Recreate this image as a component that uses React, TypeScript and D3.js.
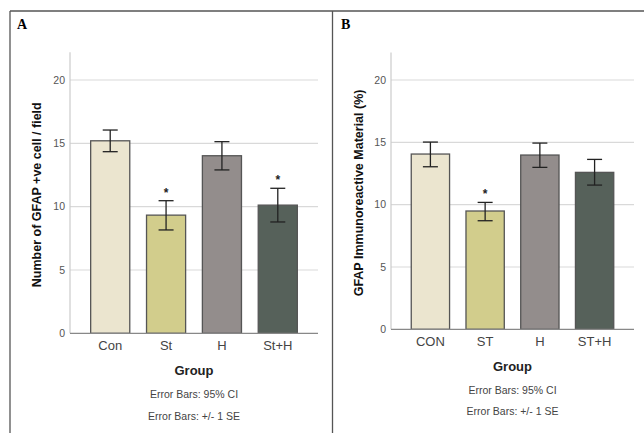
import * as d3 from "d3";

// panel A
const groupsA = ["Con", "St", "H", "St+H"];
const meanA = [15.2, 9.33, 14.02, 10.12];
const hiA = [16.05, 10.47, 15.13, 11.45];
const loA = [14.34, 8.16, 12.9, 8.79];
const starA = [false, true, false, true];

// panel B
const groupsB = ["CON", "ST", "H", "ST+H"];
const meanB = [14.06, 9.49, 13.98, 12.59];
const hiB = [15.02, 10.18, 14.94, 13.63];
const loB = [13.04, 8.71, 12.99, 11.57];
const starB = [false, true, false, false];

const yTicks = [0, 5, 10, 15, 20];
const barColors = ["#ebe5cf", "#d2cd8c", "#938d8c", "#56615a"];
const notes = ["Error Bars: 95% CI", "Error Bars: +/- 1 SE"];

const sans = "Arial, 'Liberation Sans', sans-serif";

type PanelProps = {
  label: string;
  labelX: number;
  groups: string[];
  mean: number[];
  hi: number[];
  lo: number[];
  star: boolean[];
  left: number;
  right: number;
  y0: number;
  y20: number;
  titleX: number;
  title: string;
  xLabelY: number;
  groupY: number;
  noteY: number[];
};

const Panel = (p: PanelProps) => {
  const x = d3
    .scaleBand()
    .domain(p.groups)
    .range([p.left, p.right])
    .paddingInner(0.3)
    .paddingOuter(0.37);
  const y = d3.scaleLinear().domain([0, 20]).range([p.y0, p.y20]);
  const axisTop = y(22.2);
  const mid = (p.left + p.right) / 2;
  const titleY = (y(0) + axisTop) / 2 + 2;

  return (
    <g>
      <text x={p.labelX} y={29} fontFamily="'Liberation Serif', 'Times New Roman', serif" fontWeight="bold" fontSize={14}>
        {p.label}
      </text>
      {yTicks.map((t) => (
        <g key={t}>
          {t > 0 && (
            <line x1={p.left} x2={p.right} y1={y(t)} y2={y(t)} stroke="#d9d9d9" strokeWidth={1.2} />
          )}
          <text x={p.left - 5} y={y(t)} dy="0.35em" textAnchor="end" fontFamily={sans} fontSize={10.5} fill="#555">
            {t}
          </text>
        </g>
      ))}
      {p.groups.map((g, i) => {
        const bx = x(g)!;
        const cx = bx + x.bandwidth() / 2;
        return (
          <g key={g}>
            <rect
              x={bx}
              y={y(p.mean[i])}
              width={x.bandwidth()}
              height={y(0) - y(p.mean[i])}
              fill={barColors[i]}
              stroke="#555"
              strokeWidth={1.3}
            />
            <line x1={cx} x2={cx} y1={y(p.hi[i])} y2={y(p.lo[i])} stroke="#222" strokeWidth={1.3} />
            <line x1={cx - 7.5} x2={cx + 7.5} y1={y(p.hi[i])} y2={y(p.hi[i])} stroke="#222" strokeWidth={1.3} />
            <line x1={cx - 7.5} x2={cx + 7.5} y1={y(p.lo[i])} y2={y(p.lo[i])} stroke="#222" strokeWidth={1.3} />
            {p.star[i] && (
              <text x={cx} y={y(p.hi[i]) - 4} textAnchor="middle" fontFamily={sans} fontWeight="bold" fontSize={12} fill="#222">
                *
              </text>
            )}
            <text x={cx} y={p.xLabelY} textAnchor="middle" fontFamily={sans} fontSize={13} fill="#444">
              {g}
            </text>
          </g>
        );
      })}
      <line x1={p.left} x2={p.left} y1={axisTop} y2={y(0)} stroke="#ccc" strokeWidth={1.2} />
      <line x1={p.left} x2={p.right} y1={y(0)} y2={y(0)} stroke="#888" strokeWidth={1.2} />
      <text
        transform={`translate(${p.titleX},${titleY}) rotate(-90)`}
        textAnchor="middle"
        fontFamily={sans}
        fontWeight="bold"
        fontSize={12.5}
        fill="#111"
      >
        {p.title}
      </text>
      <text x={mid} y={p.groupY} textAnchor="middle" fontFamily={sans} fontWeight="bold" fontSize={13} fill="#222">
        Group
      </text>
      {notes.map((n, i) => (
        <text key={n} x={mid} y={p.noteY[i]} textAnchor="middle" fontFamily={sans} fontSize={10.5} fill="#444" xmlSpace="preserve">
          {n}
        </text>
      ))}
    </g>
  );
};

export default function App() {
  return (
    <svg width={644} height={433} style={{ position: "absolute", left: 0, top: 0, background: "#fff" }}>
      <line x1={10} x2={644} y1={11} y2={11} stroke="#555" strokeWidth={1.3} />
      <line x1={10} x2={10} y1={11} y2={433} stroke="#555" strokeWidth={1.3} />
      <line x1={332.5} x2={332.5} y1={11} y2={433} stroke="#555" strokeWidth={1.3} />
      <Panel
        label="A"
        labelX={17}
        groups={groupsA}
        mean={meanA}
        hi={hiA}
        lo={loA}
        star={starA}
        left={70}
        right={318}
        y0={333.3}
        y20={80}
        titleX={41}
        title="Number of GFAP +ve cell / field"
        xLabelY={350}
        groupY={375}
        noteY={[398, 420]}
      />
      <Panel
        label="B"
        labelX={341}
        groups={groupsB}
        mean={meanB}
        hi={hiB}
        lo={loB}
        star={starB}
        left={391}
        right={634}
        y0={329.3}
        y20={80}
        titleX={363}
        title="GFAP Immunoreactive Material (%)"
        xLabelY={345.5}
        groupY={370.5}
        noteY={[394, 415]}
      />
    </svg>
  );
}
